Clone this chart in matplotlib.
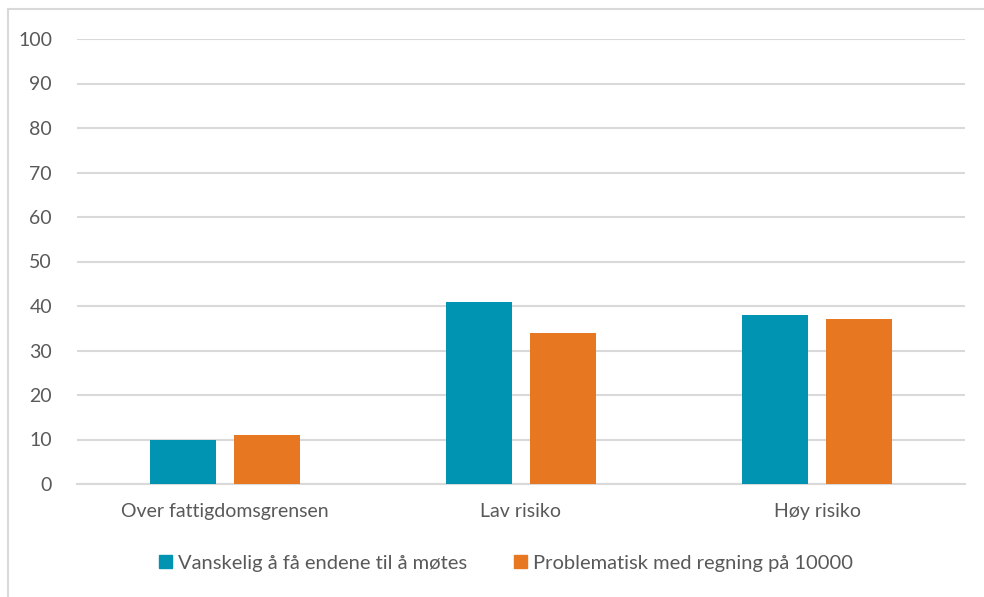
import numpy as np
import matplotlib
matplotlib.use('Agg')
import matplotlib.pyplot as plt
from matplotlib.lines import Line2D
from matplotlib.patches import Patch

kategorier = ['Over fattigdomsgrensen', 'Lav risiko', 'Høy risiko']
vanskelig = [10, 41, 38]
problematisk = [11, 34, 37]
serie_navn = ['Vanskelig å få endene til å møtes', 'Problematisk med regning på 10000']
y_ticks = [0, 10, 20, 30, 40, 50, 60, 70, 80, 90, 100]

TEAL = '#0093B2'
ORANGE = '#E87722'
TEXT = '#595959'
GRID = '#D9D9D9'

plt.rcParams['font.family'] = ['Lato', 'DejaVu Sans']

W, H = 984, 597
fig = plt.figure(figsize=(W / 100, H / 100), dpi=100)
ax = fig.add_axes([77 / W, 1 - 484 / H, (965 - 77) / W, (484 - 39) / H])

x = np.arange(len(kategorier))
bw = 0.223
off = 0.141
ax.bar(x - off, vanskelig, bw, color=TEAL, zorder=3)
ax.bar(x + off, problematisk, bw, color=ORANGE, zorder=3)

ax.set_xlim(-0.5, len(kategorier) - 0.5)
ax.set_ylim(0, 100)
ax.set_yticks(y_ticks)
ax.yaxis.grid(True, color=GRID, linewidth=1.5, zorder=0)
ax.set_xticks(x)
ax.set_xticklabels(kategorier)
ax.tick_params(axis='both', length=0, labelsize=14, labelcolor=TEXT)
ax.tick_params(axis='x', pad=14)
ax.tick_params(axis='y', pad=18)
for s in ['top', 'right', 'left']:
    ax.spines[s].set_visible(False)
ax.spines['bottom'].set_color(GRID)
ax.spines['bottom'].set_linewidth(1.5)

handles = [Patch(color=TEAL), Patch(color=ORANGE)]
fig.legend(handles, serie_navn, loc='center', bbox_to_anchor=(506 / W, 1 - 563 / H),
           ncol=2, frameon=False, fontsize=14.5, labelcolor=TEXT,
           handlelength=0.65, handleheight=0.65, handletextpad=0.3, columnspacing=2.3)

# ramme rundt diagrammet
fig.add_artist(Line2D([8 / W, 1], [1 - 9 / H, 1 - 9 / H], color='#D9D9D9', linewidth=1.5))
fig.add_artist(Line2D([8 / W, 8 / W], [0, 1 - 9 / H], color='#D9D9D9', linewidth=1.5))

fig.savefig('out.png', dpi=100)
